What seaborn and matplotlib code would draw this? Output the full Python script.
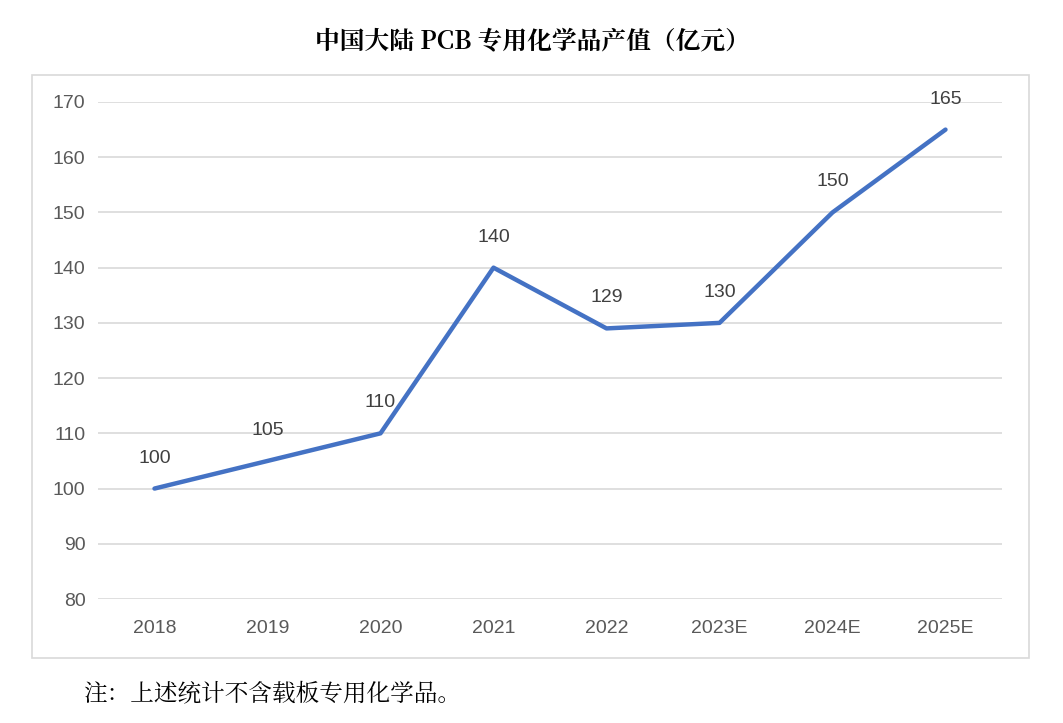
import matplotlib
matplotlib.use("Agg")
import matplotlib.pyplot as plt
import seaborn as sns
import pandas as pd
from matplotlib.patches import Rectangle

years = ["2018", "2019", "2020", "2021", "2022", "2023E", "2024E", "2025E"]
values = [100, 105, 110, 140, 129, 130, 150, 165]
yticks = [80, 90, 100, 110, 120, 130, 140, 150, 160, 170]
title = "中国大陆 PCB 专用化学品产值（亿元）"
note = "注：上述统计不含载板专用化学品。"

sns.set_theme(style="white")
plt.rcParams['font.family'] = ['Liberation Sans', 'Noto Sans CJK SC', 'DejaVu Sans']

W, H = 1063, 723
fig = plt.figure(figsize=(W / 100, H / 100), dpi=100)
fig.patch.set_facecolor("white")

# outer border
fig.patches.append(Rectangle((32 / W, 1 - 658 / H), 997 / W, 583 / H,
                             transform=fig.transFigure, fill=False,
                             edgecolor="#d9d9d9", linewidth=1.2))

ax = fig.add_axes([98 / W, 1 - 599 / H, 904 / W, 497 / H])
df = pd.DataFrame({"year": years, "value": values})
x = list(range(len(years)))
sns.lineplot(x=x, y=df["value"], ax=ax, color="#4472C4", linewidth=3.2,
             sort=False, clip_on=False, solid_capstyle="round", solid_joinstyle="round")

ax.set_xlim(-0.5, len(years) - 0.5)
ax.set_ylim(80, 170)
ax.set_yticks(yticks)
ax.set_xticks(x)
ax.set_xticklabels(years)
ax.set_xlabel("")
ax.set_ylabel("")
ax.grid(axis="y", color="#d9d9d9", linewidth=1.2)
ax.set_axisbelow(True)
for s in ax.spines.values():
    s.set_visible(False)
ax.tick_params(axis="both", length=0, labelsize=14, labelcolor="#595959")
ax.tick_params(axis="y", pad=9)
ax.tick_params(axis="x", pad=15)

for xi, v in zip(x, values):
    ax.annotate(str(v), (xi, v), xytext=(0, 22), textcoords="offset points",
                ha="center", va="center", fontsize=14, color="#404040")

fig.text(0.501, 1 - 42 / H, title, ha="center", va="center", fontsize=17.8,
         fontweight="bold", family=['Noto Serif CJK SC', 'Noto Sans CJK SC', 'DejaVu Sans'], color="black")
fig.text(83 / W, 1 - 694 / H, note, ha="left", va="center", fontsize=17,
         family=['Noto Serif CJK SC', 'Noto Sans CJK SC', 'DejaVu Sans'], color="black")

fig.savefig("out.png", dpi=100)
